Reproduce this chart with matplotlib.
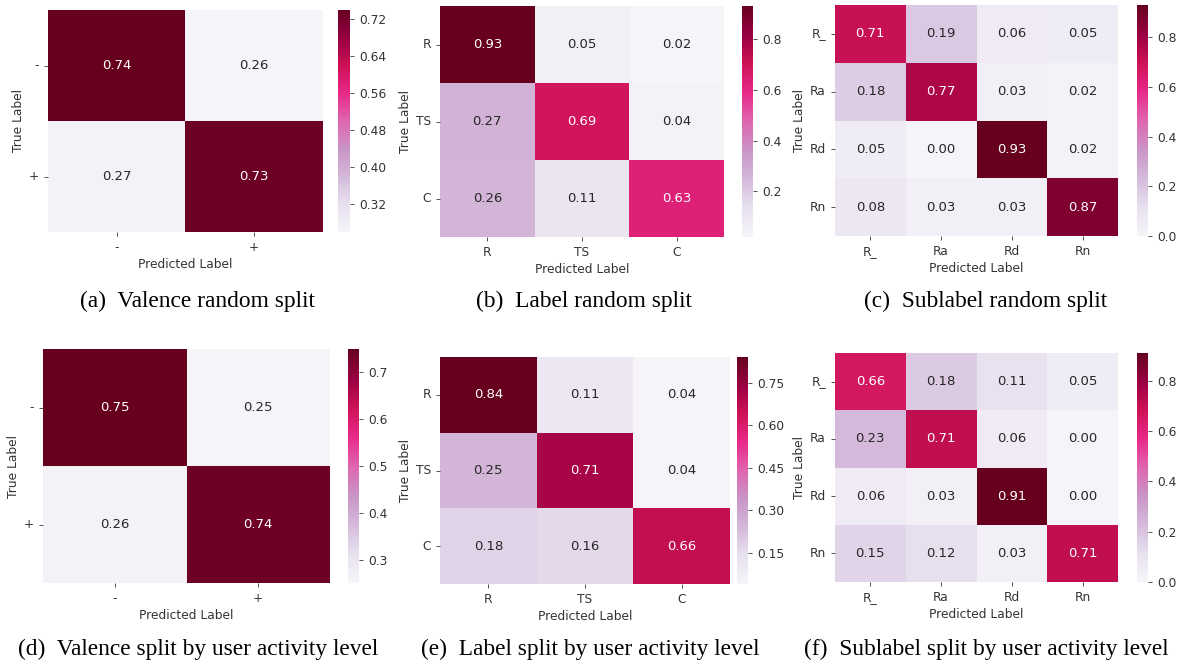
import matplotlib
matplotlib.use("Agg")
import matplotlib.pyplot as plt
import seaborn as sns
import numpy as np

# confusion matrices
valence_lbl = ['-', '+']
label_lbl = ['R', 'TS', 'C']
sublabel_lbl = ['R_', 'Ra', 'Rd', 'Rn']

cm_a = [[0.74, 0.26], [0.27, 0.73]]
cm_b = [[0.93, 0.05, 0.02], [0.27, 0.69, 0.04], [0.26, 0.11, 0.63]]
cm_c = [[0.71, 0.19, 0.06, 0.05], [0.18, 0.77, 0.03, 0.02],
        [0.05, 0.00, 0.93, 0.02], [0.08, 0.03, 0.03, 0.87]]
cm_d = [[0.75, 0.25], [0.26, 0.74]]
cm_e = [[0.84, 0.11, 0.04], [0.25, 0.71, 0.04], [0.18, 0.16, 0.66]]
cm_f = [[0.66, 0.18, 0.11, 0.05], [0.23, 0.71, 0.06, 0.00],
        [0.06, 0.03, 0.91, 0.00], [0.15, 0.12, 0.03, 0.71]]

cbar_ticks_a = [0.32, 0.40, 0.48, 0.56, 0.64, 0.72]
cbar_ticks_b = [0.2, 0.4, 0.6, 0.8]
cbar_ticks_c = [0.0, 0.2, 0.4, 0.6, 0.8]
cbar_ticks_d = [0.3, 0.4, 0.5, 0.6, 0.7]
cbar_ticks_e = [0.15, 0.30, 0.45, 0.60, 0.75]
cbar_ticks_f = [0.0, 0.2, 0.4, 0.6, 0.8]

captions = ['(a)  Valence random split', '(b)  Label random split',
            '(c)  Sublabel random split', '(d)  Valence split by user activity level',
            '(e)  Label split by user activity level', '(f)  Sublabel split by user activity level']

W, H = 1180, 664
fig = plt.figure(figsize=(W/100, H/100), dpi=100)

def box(x0, y0, x1, y1):
    return [x0/W, 1-y1/H, (x1-x0)/W, (y1-y0)/H]

panels = [
    (cm_a, valence_lbl, cbar_ticks_a, '%.2f', (48, 10, 323, 232), (338, 10, 350, 232), (198, 301)),
    (cm_b, label_lbl, cbar_ticks_b, '%.1f', (440, 6, 724, 237), (742, 6, 753, 237), (584, 301)),
    (cm_c, sublabel_lbl, cbar_ticks_c, '%.1f', (835, 5, 1118, 236), (1137, 5, 1148, 236), (986, 301)),
    (cm_d, valence_lbl, cbar_ticks_d, '%.1f', (43, 349, 330, 583), (348, 349, 359, 583), (198, 649)),
    (cm_e, label_lbl, cbar_ticks_e, '%.2f', (440, 357, 730, 584), (737, 357, 748, 584), (590, 649)),
    (cm_f, sublabel_lbl, cbar_ticks_f, '%.1f', (835, 353, 1118, 582), (1137, 353, 1148, 582), (986, 649)),
]

txt = '#333333'
for i, (cm, lbl, cticks, fmt, hb, cb, cap) in enumerate(panels):
    ax = fig.add_axes(box(*hb))
    cax = fig.add_axes(box(*cb))
    sns.heatmap(np.array(cm), annot=True, fmt='.2f', cmap='PuRd', ax=ax, cbar_ax=cax,
                xticklabels=lbl, yticklabels=lbl, annot_kws={'fontsize': 9.5},
                cbar_kws={'ticks': cticks, 'format': fmt})
    ax.set_xlabel('Predicted Label', fontsize=8.8, color=txt, labelpad=3)
    ax.set_ylabel('True Label', fontsize=8.8, color=txt, labelpad=3)
    ax.tick_params(labelsize=8.8, colors=txt, length=3, width=0.6)
    ax.tick_params(axis='y', rotation=0)
    ax.tick_params(axis='x', rotation=0)
    cax.tick_params(labelsize=8.8, colors=txt, length=3, width=0.6)
    for s in cax.spines.values():
        s.set_visible(False)
    fig.text(cap[0]/W, 1-cap[1]/H, captions[i], ha='center', va='center',
             fontsize=16.8, family='Liberation Serif')

fig.savefig('out.png', dpi=100)
